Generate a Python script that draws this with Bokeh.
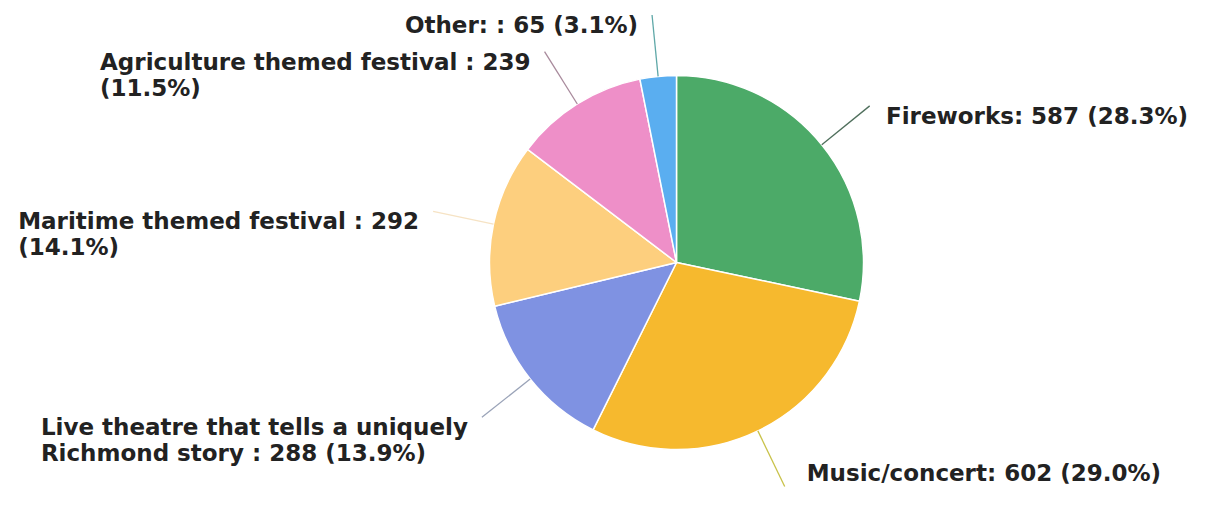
import math
import textwrap
from bokeh.plotting import figure
from bokeh.models import ColumnDataSource, Range1d
from bokeh.core.properties import value
from bokeh.embed import file_html
from bokeh.resources import INLINE

# ---- data ----
categories = ["Fireworks", "Music/concert", "Live theatre that tells a uniquely Richmond story ",
              "Maritime themed festival ", "Agriculture themed festival ", "Other: "]
counts = [587, 602, 288, 292, 239, 65]
slice_colors = ["#4caa68", "#f6b92e", "#7f92e2", "#fdcf7e", "#ee8fc8", "#5aaef0"]
leader_colors = ["#4f6f5c", "#c9c24a", "#9aa3b8", "#f6e3c4", "#a88a9c", "#5fa8a8"]

W, H = 1189, 489
CX, CY = 676, 227
R = 187
LR = 1.33 * R
FS = 23.0
LH = 1.0

# approximate advance widths (em) of DejaVu Sans Bold, used to left-align wrapped labels
EM = {" ": .348, "(": .457, ")": .457, "%": 1.002, ".": .381, ":": .400, "/": .365,
      "a": .675, "b": .716, "c": .593, "d": .716, "e": .678, "f": .435, "g": .716, "h": .712,
      "i": .343, "k": .665, "l": .343, "m": 1.042, "n": .712, "o": .687, "p": .716, "q": .716,
      "r": .493, "s": .595, "t": .478, "u": .712, "v": .652, "w": .924, "y": .652,
      "A": .774, "F": .575, "L": .637, "M": .995, "O": .850, "R": .770}


def text_width(s):
    return sum(EM.get(ch, .696 if ch.isdigit() else .7) for ch in s) * FS


total = sum(counts)
starts, ends, mids = [], [], []
cum = 0
for c in counts:
    a0 = cum / total * 2 * math.pi
    cum += c
    a1 = cum / total * 2 * math.pi
    starts.append(math.pi / 2 - a0)
    ends.append(math.pi / 2 - a1)
    mids.append((a0 + a1) / 2)

labels = []
for cat, c in zip(categories, counts):
    pct = c / total * 100
    labels.append(textwrap.fill(f"{cat}: {c} ({pct:.1f}%)", width=34))

x0 = [CX + R * math.sin(m) for m in mids]
y0 = [CY + R * math.cos(m) for m in mids]
x1 = [CX + LR * math.sin(m) for m in mids]
y1 = [CY + LR * math.cos(m) for m in mids]

tx, ty = [], []
for lab, m, xe, ye in zip(labels, mids, x1, y1):
    lines = lab.split("\n")
    if math.sin(m) > 0:
        x = xe + 22
        x = min(x, W - 4 - max(text_width(l) for l in lines))
        tx.append(x)
    else:
        tx.append(xe - 14 - text_width(lines[0]))
    block_h = FS * 1.2 * len(lines)
    top = ye + 3
    top = min(max(top, block_h + 2), H - 2)
    ty.append(top)

src = ColumnDataSource(dict(start=starts, end=ends, color=slice_colors,
                            x0=x0, y0=y0, x1=x1, y1=y1, lc=leader_colors,
                            tx=tx, ty=ty, label=labels))

p = figure(width=W, height=H, output_backend="svg", toolbar_location=None,
           x_range=Range1d(0, W), y_range=Range1d(0, H),
           x_axis_location=None, y_axis_location=None, min_border=0,
           background_fill_color="white", border_fill_color="white")
p.grid.visible = False
p.outline_line_color = None

p.wedge(x=CX, y=CY, radius=R, start_angle="start", end_angle="end", direction="clock",
        fill_color="color", line_color="white", line_width=1.5, source=src)
p.segment(x0="x0", y0="y0", x1="x1", y1="y1", line_color="lc", line_width=1.3, source=src)
p.text(x="tx", y="ty", text="label", text_align="left", text_baseline="top",
       text_font=value("DejaVu Sans"), text_font_style="bold", text_font_size=f"{FS}px",
       text_line_height=LH, text_color="#222222", source=src)

open("out.html", "w").write(file_html(p, INLINE))
